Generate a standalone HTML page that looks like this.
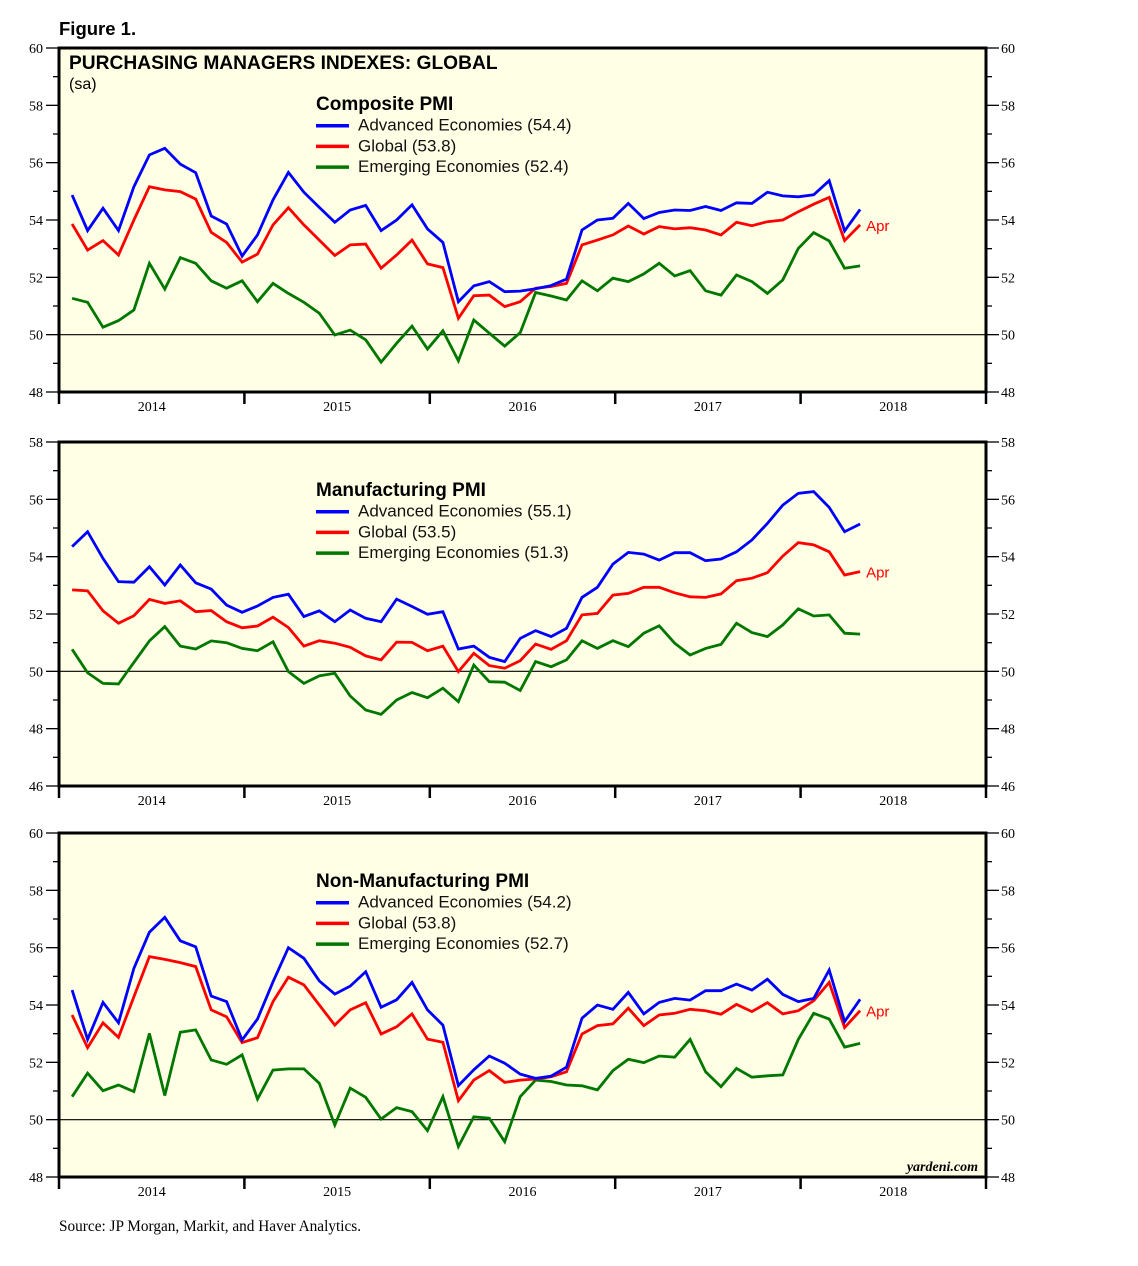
<!DOCTYPE html>
<html><head><meta charset="utf-8">
<style>
html,body{margin:0;padding:0;background:#fff;}
svg{display:block;}
.tk{font-family:"Liberation Serif",serif;font-size:14px;fill:#000;}
.ttl{font-family:"Liberation Sans",sans-serif;}
</style></head>
<body>
<svg id="chart" width="1138" height="1266" viewBox="0 0 1138 1266" xmlns="http://www.w3.org/2000/svg">
<text x="59" y="35" class="ttl" font-size="18.5" font-weight="bold">Figure 1.</text>
<text x="59" y="1231" class="tk" style="font-size:15.3px">Source: JP Morgan, Markit, and Haver Analytics.</text>
</svg>
<script>
// Composite PMI
const compAdv = [54.87,53.63,54.41,53.63,55.16,56.27,56.5,55.95,55.65,54.14,53.86,52.74,53.48,54.70,55.66,54.97,54.44,53.92,54.35,54.51,53.63,54.0,54.53,53.69,53.22,51.15,51.70,51.85,51.5,51.52,51.6,51.71,51.94,53.65,54.0,54.06,54.58,54.05,54.26,54.35,54.33,54.47,54.33,54.6,54.58,54.97,54.84,54.81,54.88,55.37,53.62,54.37];
const compGlob = [53.86,52.95,53.28,52.78,54.0,55.16,55.05,54.99,54.73,53.57,53.22,52.53,52.81,53.83,54.43,53.83,53.30,52.76,53.13,53.16,52.32,52.78,53.30,52.47,52.34,50.57,51.36,51.38,50.98,51.15,51.62,51.68,51.79,53.13,53.30,53.48,53.79,53.51,53.77,53.69,53.73,53.65,53.48,53.92,53.80,53.94,54.0,54.29,54.55,54.79,53.28,53.83];
const compEm = [51.27,51.13,50.26,50.49,50.86,52.49,51.59,52.69,52.49,51.88,51.62,51.88,51.15,51.79,51.44,51.13,50.75,49.99,50.16,49.82,49.04,49.70,50.30,49.50,50.14,49.09,50.51,50.05,49.6,50.07,51.47,51.35,51.21,51.88,51.53,51.97,51.85,52.12,52.49,52.05,52.23,51.53,51.38,52.08,51.85,51.44,51.91,53.01,53.56,53.27,52.32,52.40];
// Manufacturing PMI
const mfgAdv = [54.35,54.87,53.94,53.13,53.11,53.65,53.01,53.71,53.09,52.87,52.31,52.06,52.28,52.58,52.69,51.91,52.11,51.73,52.14,51.85,51.73,52.52,52.26,51.99,52.08,50.78,50.88,50.49,50.34,51.15,51.42,51.21,51.50,52.58,52.93,53.74,54.15,54.09,53.88,54.14,54.14,53.86,53.92,54.17,54.58,55.16,55.80,56.21,56.27,55.72,54.87,55.14];
const mfgGlob = [52.84,52.81,52.11,51.68,51.94,52.51,52.37,52.46,52.08,52.12,51.73,51.52,51.58,51.89,51.53,50.88,51.07,50.98,50.84,50.54,50.40,51.02,51.01,50.72,50.88,49.99,50.63,50.20,50.11,50.37,50.95,50.77,51.07,51.97,52.02,52.66,52.72,52.93,52.93,52.74,52.60,52.58,52.70,53.16,53.25,53.44,54.02,54.49,54.41,54.17,53.36,53.48];
const mfgEm = [50.77,49.95,49.58,49.56,50.31,51.06,51.56,50.88,50.78,51.06,51.0,50.80,50.72,51.03,49.99,49.58,49.84,49.93,49.14,48.65,48.50,49.0,49.26,49.08,49.41,48.94,50.22,49.64,49.62,49.33,50.34,50.16,50.40,51.07,50.80,51.07,50.86,51.33,51.59,50.98,50.57,50.80,50.94,51.68,51.35,51.21,51.62,52.18,51.93,51.97,51.33,51.30];
// Non-Manufacturing PMI
const nonAdv = [54.52,52.80,54.09,53.38,55.28,56.54,57.06,56.24,56.03,54.31,54.12,52.78,53.51,54.81,56.0,55.63,54.84,54.38,54.66,55.16,53.92,54.18,54.79,53.83,53.30,51.19,51.74,52.22,51.97,51.59,51.44,51.52,51.83,53.54,54.0,53.85,54.44,53.69,54.09,54.23,54.17,54.50,54.50,54.73,54.52,54.90,54.37,54.12,54.23,55.22,53.42,54.2];
const nonGlob = [53.65,52.51,53.38,52.87,54.29,55.69,55.59,55.48,55.34,53.83,53.59,52.69,52.86,54.12,54.97,54.70,54.0,53.30,53.83,54.08,52.99,53.24,53.69,52.81,52.70,50.66,51.38,51.71,51.30,51.38,51.42,51.50,51.67,52.99,53.28,53.34,53.89,53.28,53.65,53.71,53.85,53.80,53.68,54.02,53.77,54.08,53.69,53.80,54.15,54.79,53.21,53.80];
const nonEm = [50.80,51.62,51.01,51.21,50.98,53.01,50.84,53.05,53.13,52.08,51.93,52.26,50.72,51.73,51.77,51.77,51.27,49.81,51.10,50.78,50.02,50.42,50.28,49.62,50.80,49.06,50.10,50.05,49.23,50.80,51.38,51.33,51.21,51.18,51.04,51.71,52.11,51.99,52.22,52.18,52.80,51.67,51.15,51.79,51.48,51.53,51.56,52.80,53.71,53.51,52.53,52.66];
const yearLabels = ["2014","2015","2016","2017","2018"];
const panelTitles = ["Composite PMI","Manufacturing PMI","Non-Manufacturing PMI"];
const yMins = [48,46,48];
const yMaxs = [60,58,60];

const NS="http://www.w3.org/2000/svg";
const svg=document.getElementById('chart');
function mk(tag,attrs,parent){const e=document.createElementNS(NS,tag);for(const k in attrs)e.setAttribute(k,attrs[k]);(parent||svg).appendChild(e);return e;}

const L=59,R=986,H=344;
const tops=[48,442,833];
const yearW=(R-L)/5;
function xS(i){return L+(i+0.85)*yearW/12;}

const panels=[[compAdv,compGlob,compEm],[mfgAdv,mfgGlob,mfgEm],[nonAdv,nonGlob,nonEm]];
const colors=["#0000ff","#ff0000","#007700"];
const serNames=["advanced","global","emerging"];
const legLabels=["Advanced Economies","Global","Emerging Economies"];
const slugs=["composite","manufacturing","non-manufacturing"];

panels.forEach((series,p)=>{
  const T=tops[p],B=T+H,ymin=yMins[p],ymax=yMaxs[p];
  const yS=v=>T+(ymax-v)*H/(ymax-ymin);
  const g=mk('g',{});
  
  
  const bg=mk('rect',{x:L,y:T,width:R-L,height:H,fill:'#ffffe6'},g);
  
  
  const z=mk('line',{x1:L,x2:R,y1:yS(50),y2:yS(50),stroke:'#000','stroke-width':1.2},g);
  
  
  for(let v=ymin;v<=ymax;v++){
    const y=yS(v);const maj=(v%2===0);
    mk('line',{x1:maj?46:53,x2:L,y1:y,y2:y,stroke:'#000','stroke-width':1.3},g);
    mk('line',{x1:R,x2:maj?999:992,y1:y,y2:y,stroke:'#000','stroke-width':1.3},g);
    if(maj){
      const t1=mk('text',{x:43,y:y+5,'text-anchor':'end',class:'tk'},g);t1.textContent=v;
      
      
      const t2=mk('text',{x:1001,y:y+5,class:'tk'},g);t2.textContent=v;
      
      
    }
  }
  for(let k=0;k<=5;k++){const x=L+k*yearW;mk('line',{x1:x,x2:x,y1:B,y2:B+12,stroke:'#000','stroke-width':2.5},g);}
  yearLabels.forEach((yl,k)=>{
    const t=mk('text',{x:L+(k+0.5)*yearW,y:B+19,'text-anchor':'middle',class:'tk'},g);t.textContent=yl;
    
    
  });
  [2,1,0].forEach(s=>{
    const d=series[s].map((v,i)=>(i?'L':'M')+xS(i).toFixed(1)+','+yS(v).toFixed(1)).join('');
    const pl=mk('path',{d:d,fill:'none',stroke:colors[s],'stroke-width':2.8,'stroke-linejoin':'miter'},g);
    
    
  });
  const last=series[1].length-1;
  const ap=mk('text',{x:xS(last)+6,y:yS(series[1][last])+6,fill:'#ff0000','font-size':15,class:'ttl'},g);
  ap.textContent='Apr';
  
  
  mk('rect',{x:L,y:T,width:R-L,height:H,fill:'none',stroke:'#000','stroke-width':3},g);
  const ly=(p===0)?T+62:T+54;
  const lt=mk('text',{x:316,y:ly,class:'ttl','font-size':19,'font-weight':'bold'},g);lt.textContent=panelTitles[p];
  
  
  [0,1,2].forEach(s=>{
    const yy=ly+20.7*(s+1);
    const v=series[s][series[s].length-1].toFixed(1);
    mk('line',{x1:316,x2:349,y1:yy-5,y2:yy-5,stroke:colors[s],'stroke-width':3.5},g);
    const t=mk('text',{x:358,y:yy,class:'ttl','font-size':17,fill:'#111'},g);t.textContent=legLabels[s]+' ('+v+')';
    
    
  });
  if(p===0){
    const tt=mk('text',{x:69,y:T+21,class:'ttl','font-size':19.2,'font-weight':'bold'},g);tt.textContent='PURCHASING MANAGERS INDEXES: GLOBAL';
    
    
    const sa=mk('text',{x:69,y:T+41,class:'ttl','font-size':16},g);sa.textContent='(sa)';
    
    
  }
  if(p===2){
    const yd=mk('text',{x:978,y:B-6,'text-anchor':'end',class:'tk','font-size':15,'font-style':'italic','font-weight':'bold'},g);yd.textContent='yardeni.com';
    
    
  }
});
</script>
</body></html>
